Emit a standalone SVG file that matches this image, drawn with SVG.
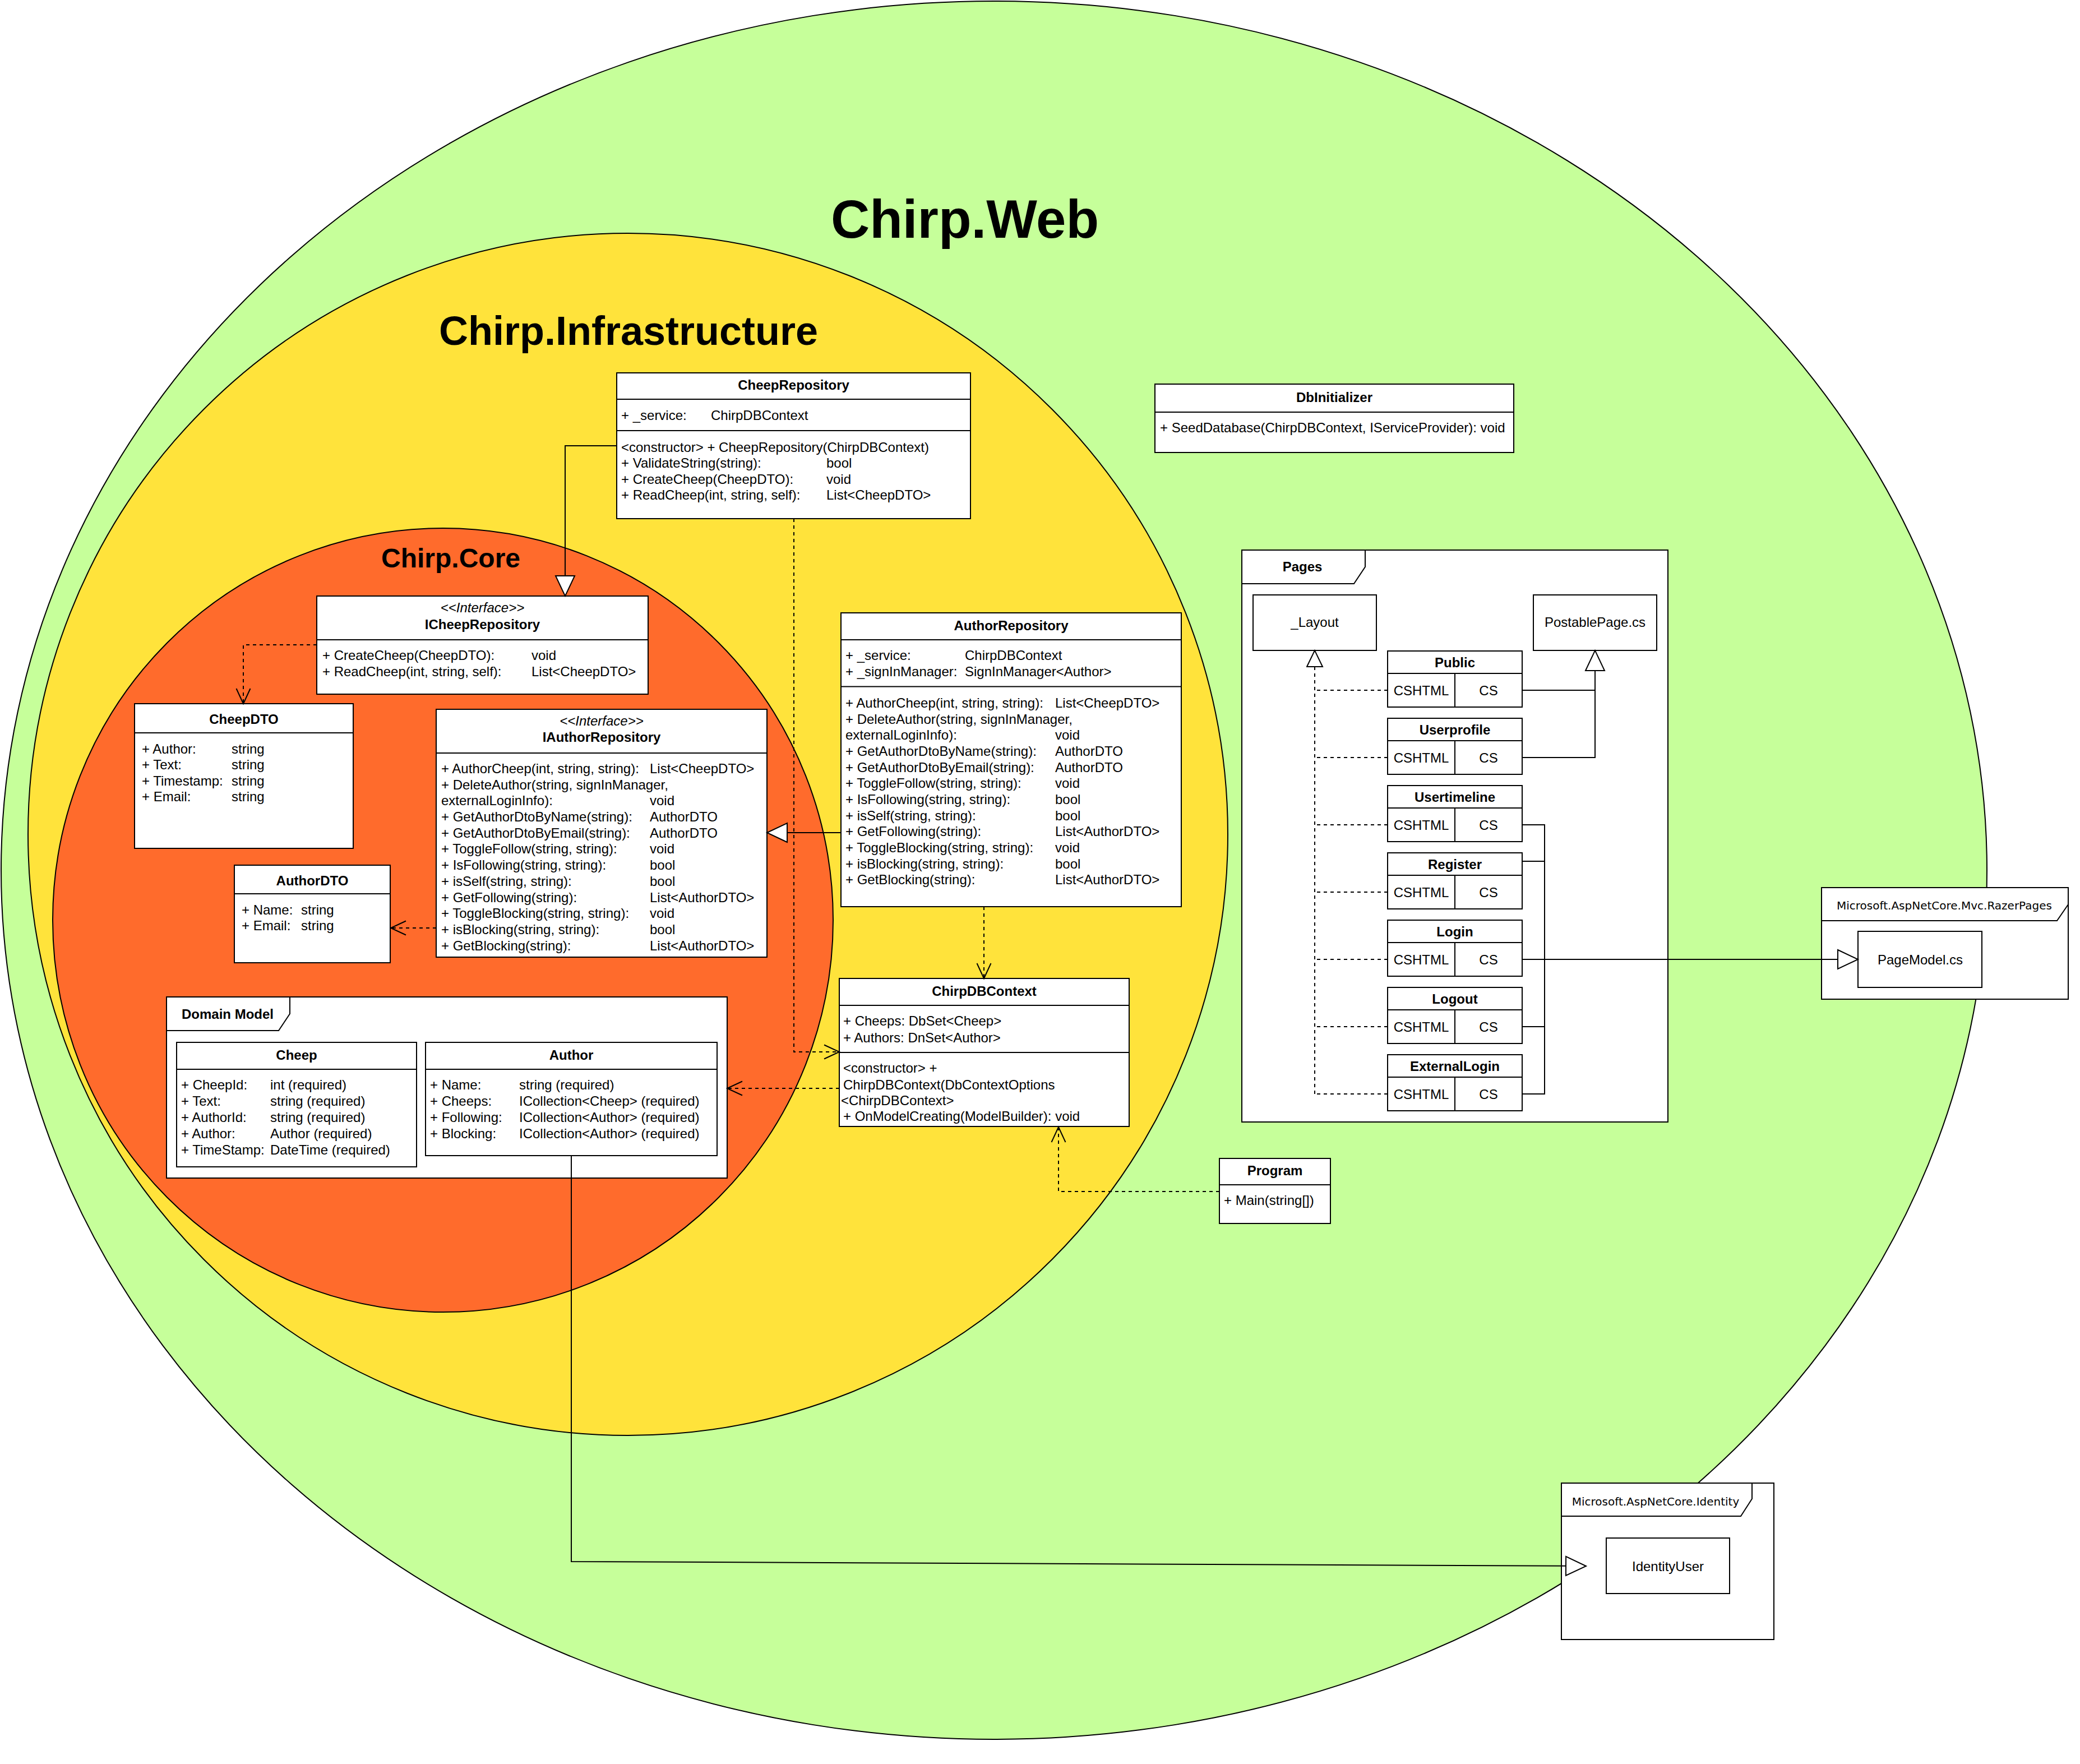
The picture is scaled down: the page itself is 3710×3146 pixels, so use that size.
<svg xmlns="http://www.w3.org/2000/svg" width="3710" height="3146" viewBox="0 0 3710 3146">
<style>
text{font-family:"Liberation Sans",Arial,Helvetica,sans-serif;font-size:24px;fill:#000}
.b{font-weight:bold}
.i{font-style:italic}
.c{text-anchor:middle}
.dv{font-family:"DejaVu Sans",Verdana,sans-serif;font-size:20px}
.box{fill:#fff;stroke:#000;stroke-width:2}
.sep{stroke:#000;stroke-width:2;fill:none}
.ln{stroke:#000;stroke-width:2;fill:none}
.dash{stroke-dasharray:6 6}
.ring{stroke:#000;stroke-width:2}
</style>
<defs>
<marker id="open" markerUnits="userSpaceOnUse" markerWidth="32" markerHeight="30" refX="28" refY="14" orient="auto">
<path d="M1,1.5 L28,14 L1,26.5" fill="none" stroke="#000" stroke-width="2"/>
</marker>
<marker id="tri" markerUnits="userSpaceOnUse" markerWidth="42" markerHeight="40" refX="38" refY="19" orient="auto">
<path d="M2,2 L38,19 L2,36 Z" fill="#fff" stroke="#000" stroke-width="2"/>
</marker>
<marker id="triS" markerUnits="userSpaceOnUse" markerWidth="34" markerHeight="32" refX="30" refY="15" orient="auto">
<path d="M1,1 L30,15 L1,29 Z" fill="#fff" stroke="#000" stroke-width="2"/>
</marker>
</defs>
<rect x="0" y="0" width="3710" height="3146" fill="#fff"/>

<g id="chirp-web">
<ellipse class="ring" cx="1773" cy="1552" rx="1771" ry="1550" fill="#C6FF9A"/>
<text class="b c" x="1721" y="424" style="font-size:96px">Chirp.Web</text>
</g>
<g id="chirp-infrastructure">
<ellipse class="ring" cx="1120" cy="1488" rx="1070" ry="1072" fill="#FFE33B"/>
<text class="b c" x="1121" y="615" style="font-size:72px">Chirp.Infrastructure</text>
</g>
<g id="chirp-core">
<ellipse class="ring" cx="790" cy="1641" rx="696" ry="699" fill="#FF6B2C"/>
<text class="b c" x="804" y="1012" style="font-size:48px">Chirp.Core</text>
</g>

<g id="cheep-repository">
<rect class="box" x="1100" y="665" width="631" height="260"/>
<path class="sep" d="M1100,712 H1731 M1100,768 H1731"/>
<text class="b c" x="1415.5" y="695">CheepRepository</text>
<text x="1108" y="749">+ _service:<tspan x="1268">ChirpDBContext</tspan></text>
<text x="1108" y="806">&lt;constructor&gt; + CheepRepository(ChirpDBContext)</text>
<text x="1108" y="834">+ ValidateString(string):<tspan x="1474">bool</tspan></text>
<text x="1108" y="863">+ CreateCheep(CheepDTO):<tspan x="1474">void</tspan></text>
<text x="1108" y="891">+ ReadCheep(int, string, self):<tspan x="1474">List&lt;CheepDTO&gt;</tspan></text>
</g>

<g id="icheep-repository">
<rect class="box" x="565" y="1063" width="591" height="175"/>
<path class="sep" d="M565,1141 H1156"/>
<text class="i c" x="860.5" y="1092">&lt;&lt;Interface&gt;&gt;</text>
<text class="b c" x="860.5" y="1122">ICheepRepository</text>
<text x="575" y="1177">+ CreateCheep(CheepDTO):<tspan x="948">void</tspan></text>
<text x="575" y="1206">+ ReadCheep(int, string, self):<tspan x="948">List&lt;CheepDTO&gt;</tspan></text>
</g>

<g id="cheep-dto">
<rect class="box" x="240" y="1255" width="390" height="258"/>
<path class="sep" d="M240,1307 H630"/>
<text class="b c" x="435" y="1291">CheepDTO</text>
<text x="253" y="1344">+ Author:<tspan x="413">string</tspan></text>
<text x="253" y="1372">+ Text:<tspan x="413">string</tspan></text>
<text x="253" y="1401">+ Timestamp:<tspan x="413">string</tspan></text>
<text x="253" y="1429">+ Email:<tspan x="413">string</tspan></text>
</g>

<g id="author-dto">
<rect class="box" x="418" y="1543" width="278" height="174"/>
<path class="sep" d="M418,1594 H696"/>
<text class="b c" x="557" y="1579">AuthorDTO</text>
<text x="431" y="1631">+ Name:<tspan x="537">string</tspan></text>
<text x="431" y="1659">+ Email:<tspan x="537">string</tspan></text>
</g>

<g id="iauthor-repository">
<rect class="box" x="778" y="1265" width="590" height="442"/>
<path class="sep" d="M778,1343 H1368"/>
<text class="i c" x="1073" y="1294">&lt;&lt;Interface&gt;&gt;</text>
<text class="b c" x="1073" y="1323">IAuthorRepository</text>
<text x="787" y="1379">+ AuthorCheep(int, string, string):<tspan x="1159">List&lt;CheepDTO&gt;</tspan></text>
<text x="787" y="1408">+ DeleteAuthor(string, signInManager,</text>
<text x="787" y="1436">externalLoginInfo):<tspan x="1159">void</tspan></text>
<text x="787" y="1465">+ GetAuthorDtoByName(string):<tspan x="1159">AuthorDTO</tspan></text>
<text x="787" y="1494">+ GetAuthorDtoByEmail(string):<tspan x="1159">AuthorDTO</tspan></text>
<text x="787" y="1522">+ ToggleFollow(string, string):<tspan x="1159">void</tspan></text>
<text x="787" y="1551">+ IsFollowing(string, string):<tspan x="1159">bool</tspan></text>
<text x="787" y="1580">+ isSelf(string, string):<tspan x="1159">bool</tspan></text>
<text x="787" y="1609">+ GetFollowing(string):<tspan x="1159">List&lt;AuthorDTO&gt;</tspan></text>
<text x="787" y="1637">+ ToggleBlocking(string, string):<tspan x="1159">void</tspan></text>
<text x="787" y="1666">+ isBlocking(string, string):<tspan x="1159">bool</tspan></text>
<text x="787" y="1695">+ GetBlocking(string):<tspan x="1159">List&lt;AuthorDTO&gt;</tspan></text>
</g>

<g id="author-repository">
<rect class="box" x="1500" y="1093" width="607" height="524"/>
<path class="sep" d="M1500,1141 H2107 M1500,1224.5 H2107"/>
<text class="b c" x="1803.5" y="1124">AuthorRepository</text>
<text x="1508" y="1177">+ _service:<tspan x="1721">ChirpDBContext</tspan></text>
<text x="1508" y="1206">+ _signInManager:<tspan x="1721">SignInManager&lt;Author&gt;</tspan></text>
<text x="1508" y="1262">+ AuthorCheep(int, string, string):<tspan x="1882">List&lt;CheepDTO&gt;</tspan></text>
<text x="1508" y="1291">+ DeleteAuthor(string, signInManager,</text>
<text x="1508" y="1319">externalLoginInfo):<tspan x="1882">void</tspan></text>
<text x="1508" y="1348">+ GetAuthorDtoByName(string):<tspan x="1882">AuthorDTO</tspan></text>
<text x="1508" y="1377">+ GetAuthorDtoByEmail(string):<tspan x="1882">AuthorDTO</tspan></text>
<text x="1508" y="1405">+ ToggleFollow(string, string):<tspan x="1882">void</tspan></text>
<text x="1508" y="1434">+ IsFollowing(string, string):<tspan x="1882">bool</tspan></text>
<text x="1508" y="1463">+ isSelf(string, string):<tspan x="1882">bool</tspan></text>
<text x="1508" y="1491">+ GetFollowing(string):<tspan x="1882">List&lt;AuthorDTO&gt;</tspan></text>
<text x="1508" y="1520">+ ToggleBlocking(string, string):<tspan x="1882">void</tspan></text>
<text x="1508" y="1549">+ isBlocking(string, string):<tspan x="1882">bool</tspan></text>
<text x="1508" y="1577">+ GetBlocking(string):<tspan x="1882">List&lt;AuthorDTO&gt;</tspan></text>
</g>

<g id="chirp-db-context">
<rect class="box" x="1497" y="1745" width="517" height="264"/>
<path class="sep" d="M1497,1793 H2014 M1497,1877 H2014"/>
<text class="b c" x="1755.5" y="1776">ChirpDBContext</text>
<text x="1504" y="1829">+ Cheeps: DbSet&lt;Cheep&gt;</text>
<text x="1504" y="1859">+ Authors: DnSet&lt;Author&gt;</text>
<text x="1504" y="1913">&lt;constructor&gt; +</text>
<text x="1504" y="1943">ChirpDBContext(DbContextOptions</text>
<text x="1500" y="1971">&lt;ChirpDBContext&gt;</text>
<text x="1504" y="1999">+ OnModelCreating(ModelBuilder): void</text>
</g>

<g id="domain-model">
<rect class="box" x="297" y="1778" width="1000" height="323"/>
<path class="ln" d="M297,1838 H497 L517,1808 V1778"/>
<text class="b c" x="406" y="1817">Domain Model</text>
</g>

<g id="cheep">
<rect class="box" x="315" y="1859" width="428" height="222"/>
<path class="sep" d="M315,1907 H743"/>
<text class="b c" x="529" y="1890">Cheep</text>
<text x="323" y="1943">+ CheepId:<tspan x="482">int (required)</tspan></text>
<text x="323" y="1972">+ Text:<tspan x="482">string (required)</tspan></text>
<text x="323" y="2001">+ AuthorId:<tspan x="482">string (required)</tspan></text>
<text x="323" y="2030">+ Author:<tspan x="482">Author (required)</tspan></text>
<text x="323" y="2059">+ TimeStamp:<tspan x="482">DateTime (required)</tspan></text>
</g>

<g id="author">
<rect class="box" x="759" y="1859" width="520" height="202"/>
<path class="sep" d="M759,1907 H1279"/>
<text class="b c" x="1019" y="1890">Author</text>
<text x="767" y="1943">+ Name:<tspan x="926">string (required)</tspan></text>
<text x="767" y="1972">+ Cheeps:<tspan x="926">ICollection&lt;Cheep&gt; (required)</tspan></text>
<text x="767" y="2001">+ Following:<tspan x="926">ICollection&lt;Author&gt; (required)</tspan></text>
<text x="767" y="2030">+ Blocking:<tspan x="926">ICollection&lt;Author&gt; (required)</tspan></text>
</g>

<g id="db-initializer">
<rect class="box" x="2060" y="685" width="640" height="122"/>
<path class="sep" d="M2060,735 H2700"/>
<text class="b c" x="2380" y="717">DbInitializer</text>
<text x="2069" y="771">+ SeedDatabase(ChirpDBContext, IServiceProvider): void</text>
</g>

<g id="program">
<rect class="box" x="2175" y="2066" width="198" height="116"/>
<path class="sep" d="M2175,2113 H2373"/>
<text class="b c" x="2274" y="2096">Program</text>
<text x="2183" y="2149">+ Main(string[])</text>
</g>

<g id="pages">
<rect class="box" x="2215" y="981" width="760" height="1020"/>
<path class="ln" d="M2215,1041 H2415 L2435,1011 V981"/>
<text class="b c" x="2323" y="1019">Pages</text>
</g>
<g id="layout">
<rect class="box" x="2235" y="1061" width="220" height="99"/>
<text class="c" x="2345" y="1118">_Layout</text>
</g>
<g id="postable-page">
<rect class="box" x="2735" y="1061" width="220" height="99"/>
<text class="c" x="2845" y="1118">PostablePage.cs</text>
</g>
<g id="page-public">
<rect class="box" x="2475" y="1161" width="240" height="100"/>
<path class="sep" d="M2475,1201 H2715 M2595,1201 V1261"/>
<text class="b c" x="2595" y="1190">Public</text>
<text class="c" x="2535" y="1240">CSHTML</text><text class="c" x="2655" y="1240">CS</text>
</g>
<g id="page-userprofile">
<rect class="box" x="2475" y="1281" width="240" height="100"/>
<path class="sep" d="M2475,1321 H2715 M2595,1321 V1381"/>
<text class="b c" x="2595" y="1310">Userprofile</text>
<text class="c" x="2535" y="1360">CSHTML</text><text class="c" x="2655" y="1360">CS</text>
</g>
<g id="page-usertimeline">
<rect class="box" x="2475" y="1401" width="240" height="100"/>
<path class="sep" d="M2475,1441 H2715 M2595,1441 V1501"/>
<text class="b c" x="2595" y="1430">Usertimeline</text>
<text class="c" x="2535" y="1480">CSHTML</text><text class="c" x="2655" y="1480">CS</text>
</g>
<g id="page-register">
<rect class="box" x="2475" y="1521" width="240" height="100"/>
<path class="sep" d="M2475,1561 H2715 M2595,1561 V1621"/>
<text class="b c" x="2595" y="1550">Register</text>
<text class="c" x="2535" y="1600">CSHTML</text><text class="c" x="2655" y="1600">CS</text>
</g>
<g id="page-login">
<rect class="box" x="2475" y="1641" width="240" height="100"/>
<path class="sep" d="M2475,1681 H2715 M2595,1681 V1741"/>
<text class="b c" x="2595" y="1670">Login</text>
<text class="c" x="2535" y="1720">CSHTML</text><text class="c" x="2655" y="1720">CS</text>
</g>
<g id="page-logout">
<rect class="box" x="2475" y="1761" width="240" height="100"/>
<path class="sep" d="M2475,1801 H2715 M2595,1801 V1861"/>
<text class="b c" x="2595" y="1790">Logout</text>
<text class="c" x="2535" y="1840">CSHTML</text><text class="c" x="2655" y="1840">CS</text>
</g>
<g id="page-externallogin">
<rect class="box" x="2475" y="1881" width="240" height="100"/>
<path class="sep" d="M2475,1921 H2715 M2595,1921 V1981"/>
<text class="b c" x="2595" y="1910">ExternalLogin</text>
<text class="c" x="2535" y="1960">CSHTML</text><text class="c" x="2655" y="1960">CS</text>
</g>

<g id="razor-pages">
<rect class="box" x="3249" y="1583" width="440" height="199"/>
<path class="ln" d="M3249,1642 H3669 L3689,1613"/>
<text class="dv c" x="3468" y="1622">Microsoft.AspNetCore.Mvc.RazerPages</text>
</g>
<g id="page-model">
<rect class="box" x="3314" y="1661" width="221" height="100"/>
<text class="c" x="3425" y="1720">PageModel.cs</text>
</g>

<g id="aspnet-identity">
<rect class="box" x="2785" y="2645" width="379" height="279"/>
<path class="ln" d="M2785,2704 H3105 L3125,2673 V2645"/>
<text class="dv c" x="2953" y="2685">Microsoft.AspNetCore.Identity</text>
</g>
<g id="identity-user">
<rect class="box" x="2865" y="2743" width="220" height="99"/>
<text class="c" x="2975" y="2802">IdentityUser</text>
</g>

<g id="connectors">
<path class="ln" d="M1100,795 H1008 V1063" marker-end="url(#tri)"/>
<path class="ln dash" d="M565,1150 H434 V1255" marker-end="url(#open)"/>
<path class="ln dash" d="M778,1655 H697" marker-end="url(#open)"/>
<path class="ln" d="M1500,1485 H1368" marker-end="url(#tri)"/>
<path class="ln dash" d="M1416,925 V1876 H1497" marker-end="url(#open)"/>
<path class="ln dash" d="M1755,1617 V1745" marker-end="url(#open)"/>
<path class="ln dash" d="M1497,1941 H1297" marker-end="url(#open)"/>
<path class="ln dash" d="M2175,2125 H1888 V2010" marker-end="url(#open)"/>
<path class="ln" d="M1019,2061 V2785 L2829,2793" marker-end="url(#tri)"/>
<path class="ln dash" d="M2345,1951 V1160" marker-end="url(#triS)"/>
<path class="ln dash" d="M2475,1231 H2345 M2475,1351 H2345 M2475,1471 H2345 M2475,1591 H2345 M2475,1711 H2345 M2475,1831 H2345 M2475,1951 H2345"/>
<path class="ln" d="M2715,1231 H2845 V1160" marker-end="url(#tri)"/>
<path class="ln" d="M2715,1351 H2845 V1231"/>
<path class="ln" d="M2715,1471 H2755 V1951 H2715 M2715,1536 H2755 M2715,1831 H2755"/>
<path class="ln" d="M2715,1711 H3314" marker-end="url(#tri)"/>
</g>
</svg>
